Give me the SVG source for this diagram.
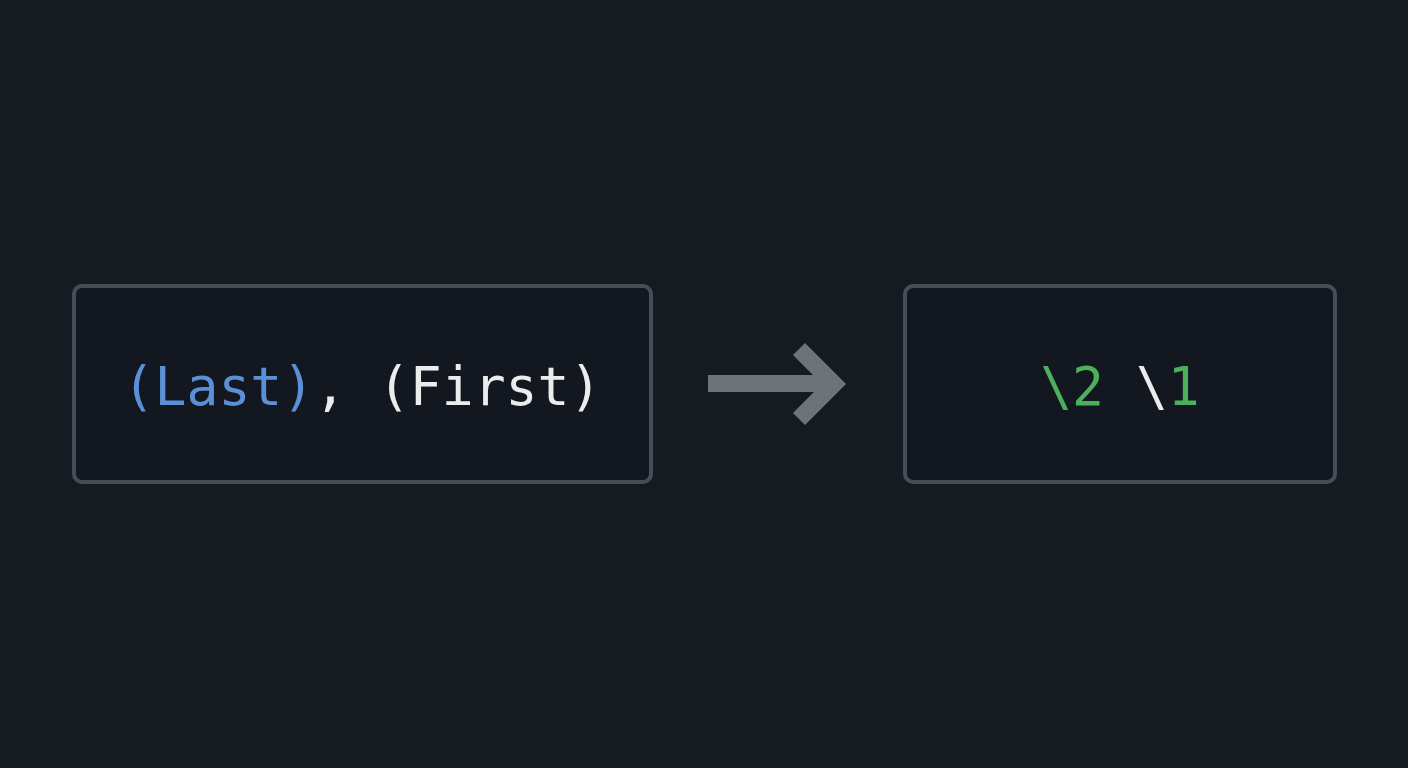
<svg xmlns="http://www.w3.org/2000/svg" width="1408" height="768" viewBox="0 0 1408 768">
<style>
.box{fill:#131820;stroke:#464d56;stroke-width:4}
.code{font-family:"DejaVu Sans Mono","Liberation Mono",monospace;font-size:53px}
.blue{fill:#5b90d8}
.white{fill:#ececec}
.green{fill:#4caf5c}
.arr{fill:none;stroke:#6e7379;stroke-width:17}
</style>
<rect width="1408" height="768" fill="#161a21"/>
<g id="node-pattern">
<rect class="box" x="74" y="286" width="577" height="196" rx="8"/>
<text class="code" x="362" y="405" text-anchor="middle" xml:space="preserve"><tspan class="blue">(Last)</tspan><tspan class="white">, (First)</tspan></text>
</g>
<g id="node-replacement">
<rect class="box" x="905" y="286" width="430" height="196" rx="8"/>
<text class="code" x="1120" y="405" text-anchor="middle" xml:space="preserve"><tspan class="green">\2 </tspan><tspan class="white">\</tspan><tspan class="green">1</tspan></text>
</g>
<g id="connectors">
<line class="arr" x1="708" y1="383.5" x2="832" y2="383.5"/>
<polyline class="arr" points="799,349 834,384 799,419" stroke-linejoin="miter"/>
</g>
</svg>
